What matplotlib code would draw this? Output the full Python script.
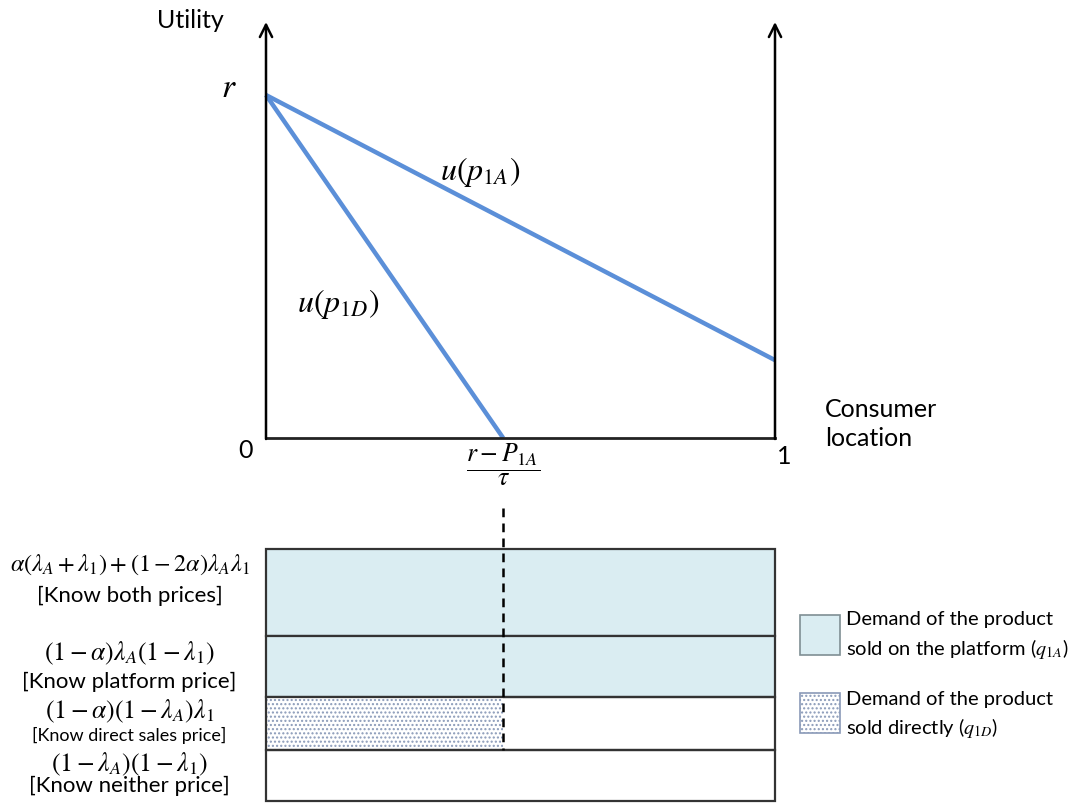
import matplotlib
matplotlib.use("Agg")
import matplotlib.pyplot as plt
from matplotlib.patches import Rectangle

plt.rcParams["font.family"] = ["Lato", "DejaVu Sans"]
plt.rcParams["mathtext.fontset"] = "stix"
plt.rcParams["hatch.linewidth"] = 1.0

# Utility lines (r = 1)
r = 1.0
u1a_x = [0.0, 1.0]
u1a_y = [r, 0.227]
u1d_x = [0.0, 0.466]
u1d_y = [r, 0.0]
x_cut = u1d_x[1]
y_top = 1.213

# Consumer segments (row heights, top to bottom)
row_heights = [87, 61, 53, 51]
row_formulas = [
    r"$\alpha(\lambda_A+\lambda_1)+(1-2\alpha)\lambda_A\lambda_1$",
    r"$(1-\alpha)\lambda_A(1-\lambda_1)$",
    r"$(1-\alpha)(1-\lambda_A)\lambda_1$",
    r"$(1-\lambda_A)(1-\lambda_1)$",
]
row_labels = [
    "[Know both prices]",
    "[Know platform price]",
    "[Know direct sales price]",
    "[Know neither price]",
]
label_sizes = [16, 16, 13, 16]
formula_sizes = [17.5, 18.5, 18.5, 18.5]
platform_rows = [0, 1]
direct_rows = [2]

blue = "#5b8fd8"
fill_blue = "#daedf2"
dot_color = "#8a9ab8"

fig = plt.figure(figsize=(10.81, 8.06), dpi=100)

# ---- top panel: utility ----
W, H = 1081, 806
ax = fig.add_axes([266 / W, 1 - 438 / H, 509 / W, 416 / H])
ax.set_xlim(0, 1)
ax.set_ylim(0, y_top)
ax.axis("off")

ax.plot(u1a_x, u1a_y, color=blue, lw=3.2, solid_capstyle="butt", clip_on=False)
ax.plot(u1d_x, u1d_y, color=blue, lw=3.2, solid_capstyle="butt", clip_on=False)

ax.plot([0, 1], [0, 0], color="#222222", lw=2, clip_on=False)
for xv in [0, 1]:
    ax.annotate("", xy=(xv, y_top), xytext=(xv, -0.003),
                arrowprops=dict(arrowstyle="->", lw=1.8, color="black",
                                mutation_scale=22, shrinkA=0, shrinkB=0))

ax.text(-0.148, y_top + 0.005, "Utility", fontsize=18, ha="center", va="center")
ax.text(-0.072, 1.02, r"$r$", fontsize=24, ha="center", va="center")
ax.text(-0.04, -0.035, "0", fontsize=18, ha="center", va="center")
ax.text(1.018, -0.055, "1", fontsize=18, ha="center", va="center")
ax.text(1.098, 0.04, "Consumer\nlocation", fontsize=18, ha="left", va="center",
        linespacing=1.3)
ax.text(0.420, 0.776, r"$u(p_{1A})$", fontsize=23, ha="center", va="center")
ax.text(0.143, 0.39, r"$u(p_{1D})$", fontsize=23, ha="center", va="center")
ax.text(x_cut, -0.08, r"$\dfrac{r-P_{1A}}{\tau}$", fontsize=18.5,
        ha="center", va="center")

# ---- bottom panel: consumer segments ----
total = sum(row_heights)
bx = fig.add_axes([266 / W, 1 - 801 / H, 509 / W, 252 / H])
bx.set_xlim(0, 1)
bx.set_ylim(total, 0)
bx.axis("off")

tops = [sum(row_heights[:i]) for i in range(len(row_heights))]
for i, (t, h) in enumerate(zip(tops, row_heights)):
    if i in platform_rows:
        bx.add_patch(Rectangle((0, t), 1, h, facecolor=fill_blue, edgecolor="none"))
    if i in direct_rows:
        bx.add_patch(Rectangle((0, t), x_cut, h, facecolor="white",
                               edgecolor=dot_color, hatch="....", lw=0))
    bx.add_patch(Rectangle((0, t), 1, h, facecolor="none", edgecolor="#333333",
                           lw=1.6, clip_on=False))
    bx.text(-0.268, t + 0.28 * h if i else t + 16, row_formulas[i],
            fontsize=formula_sizes[i], ha="center", va="center")
    bx.text(-0.268, t + h - 15 if i else t + 47, row_labels[i],
            fontsize=label_sizes[i], ha="center", va="center")

# dashed divider
bx.plot([x_cut, x_cut], [-41, tops[2] + row_heights[2]], color="black",
        lw=1.8, ls=(0, (3.5, 2.5)), clip_on=False)

# legend
leg_x0 = (800 - 266) / 509
leg_w = 40 / 509
bx.add_patch(Rectangle((leg_x0, 66), leg_w, 40, facecolor=fill_blue,
                       edgecolor="#7f8f94", lw=1.2, clip_on=False))
bx.add_patch(Rectangle((leg_x0, 144), leg_w, 40, facecolor="white",
                       edgecolor=dot_color, hatch="....", lw=1.2, clip_on=False))
tx = (846 - 266) / 509
bx.text(tx, 71, "Demand of the product", fontsize=14.5, ha="left", va="center")
bx.text(tx, 100, "sold on the platform ($q_{1A}$)", fontsize=14.5, ha="left", va="center")
bx.text(tx, 151, "Demand of the product", fontsize=14.5, ha="left", va="center")
bx.text(tx, 179, "sold directly ($q_{1D}$)", fontsize=14.5, ha="left", va="center")

fig.savefig("out.png", dpi=100)
